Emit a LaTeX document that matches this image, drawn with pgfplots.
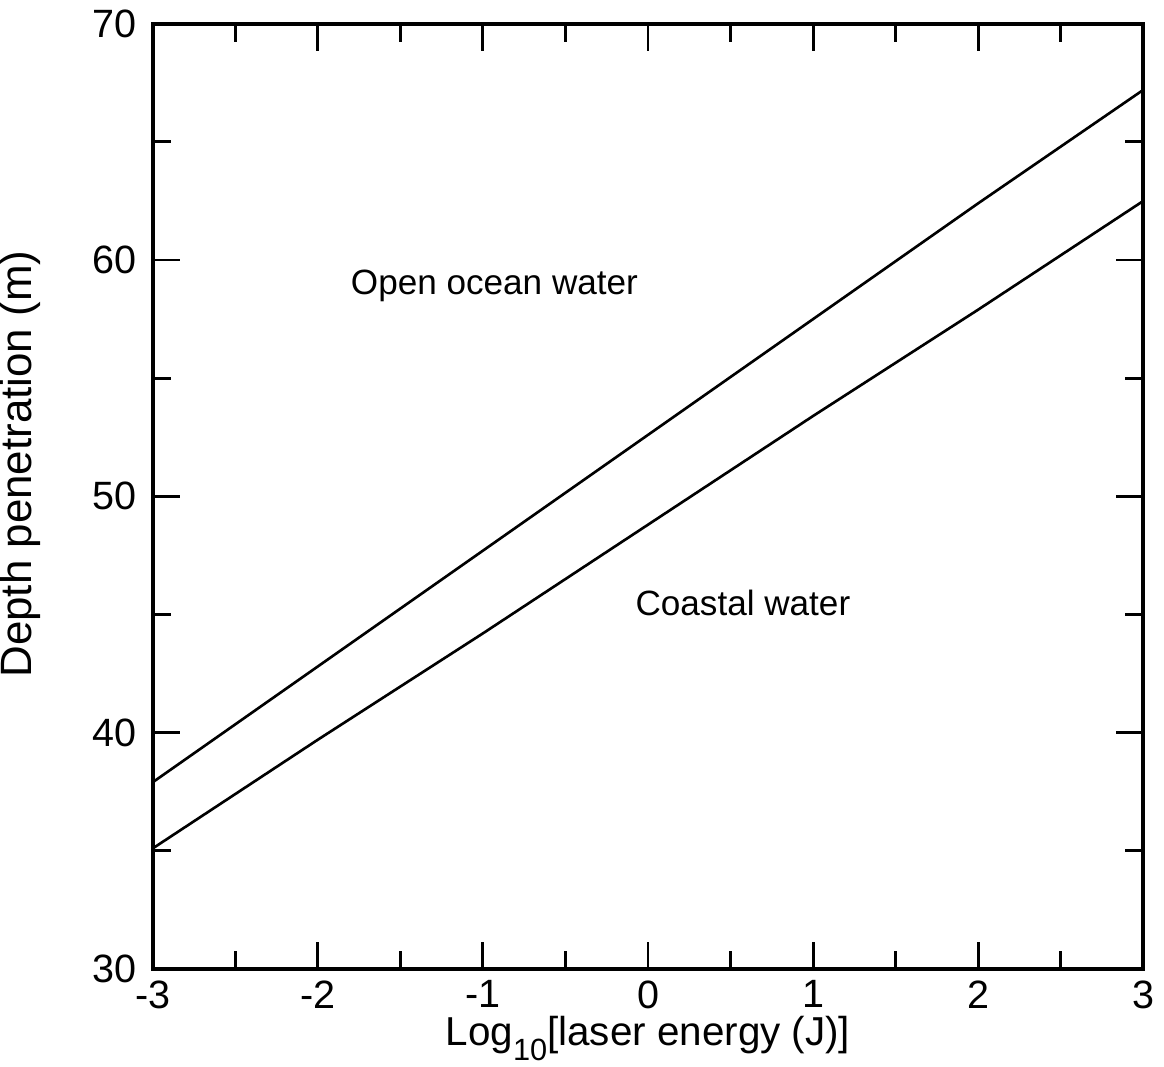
\documentclass[border=0pt]{standalone}
\usepackage{pgfplots}
\pgfplotsset{compat=1.18}
\usepackage{fontspec}
\setmainfont{Liberation Sans}
\begin{document}
\begin{tikzpicture}
\begin{axis}[
  scale only axis,
  width=338.5pt, height=323pt,
  xmin=-3, xmax=3, ymin=30, ymax=70,
  xtick={-3,-2,-1,0,1,2,3},
  xticklabels={-3,-2,-1,0,1,2,3},
  ytick={30,40,50,60,70},
  yticklabels={30,40,50,60,70},
  minor x tick num=1, minor y tick num=1,
  tick align=inside,
  major tick length=9.3pt, minor tick length=6.2pt,
  every tick/.style={black, line width=1.0pt},
  axis line style={black, line width=1.3pt},
  ticklabel style={font=\fontsize{13.5}{15}\selectfont},
  xticklabel style={yshift=-0.5pt},
  yticklabel style={xshift=-2pt},
  xlabel={Log\raisebox{-0.36em}{\fontsize{10.5}{12}\selectfont 10}[laser energy (J)]},
  ylabel={Depth penetration (m)},
  xlabel style={font=\fontsize{13.8}{16}\selectfont, at={(axis description cs:0.5,0)}, anchor=north, inner sep=0pt, yshift=-16pt},
  ylabel style={font=\fontsize{15}{17}\selectfont, at={(axis description cs:0,0.5)}, anchor=south, inner sep=0pt, yshift=38pt, xshift=11pt},
]
\addplot[black, line width=0.9pt] coordinates {
(-3,37.9) (-2,42.8) (-1,47.7) (0,52.6) (1,57.5) (2,62.4) (3,67.2)
};
\addplot[black, line width=0.9pt] coordinates {
(-3,35.1) (-2,39.7) (-1,44.2) (0,48.8) (1,53.4) (2,57.9) (3,62.5)
};
\node[font=\fontsize{12}{14}\selectfont] at (axis cs:-0.93,58.9) {Open ocean water};
\node[font=\fontsize{12}{14}\selectfont] at (axis cs:0.575,45.5) {Coastal water};
\end{axis}
\path (current bounding box.south) ++(0,-2pt);
\end{tikzpicture}
\end{document}
